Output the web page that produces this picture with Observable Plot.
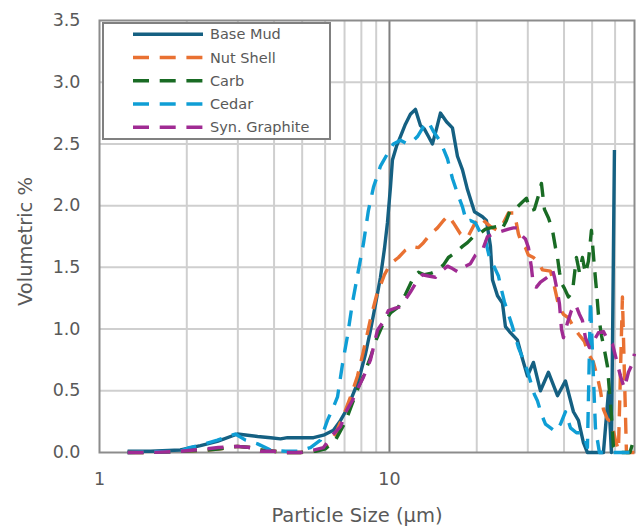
<!DOCTYPE html>
<html>
<head>
<meta charset="utf-8">
<script src="https://cdn.jsdelivr.net/npm/d3@7"></script>
<script src="https://cdn.jsdelivr.net/npm/@observablehq/plot@0.6"></script>
<style>
  html, body { margin: 0; padding: 0; background: #ffffff; }
  #chart { width: 642px; height: 527px; }
</style>
</head>
<body>
<div id="chart"></div>
<script>
// ---------- data (particle size in µm, volumetric %) ----------
const seriesNames = ["Base Mud", "Nut Shell", "Carb", "Cedar", "Syn. Graphite"];
const seriesColors = ["#156082", "#E97132", "#196B24", "#0F9ED5", "#A02B93"];

const baseMudSize = [1.25,1.50,1.90,2.23,2.55,2.99,3.24,3.51,3.89,4.21,4.45,4.93,5.47,5.92,6.41,6.78,7.05,7.34,7.63,7.94,8.27,8.60,8.95,9.31,9.61,9.84,10.08,10.24,10.57,10.91,11.35,11.81,12.29,12.79,13.20,13.63,14.07,14.52,14.99,15.73,16.49,17.16,17.86,18.58,19.64,20.93,21.60,22.30,22.66,23.58,24.53,25.12,25.93,27.63,28.75,29.91,31.37,33.17,35.35,37.98,40.45,43.10,44.85,46.66,48.17,54.70,56.91,58.28,59.69];
const baseMudVol  = [0.01,0.01,0.02,0.055,0.09,0.15,0.14,0.13,0.12,0.11,0.12,0.12,0.12,0.14,0.18,0.26,0.33,0.42,0.52,0.64,0.80,0.99,1.20,1.42,1.65,1.86,2.15,2.37,2.48,2.56,2.66,2.74,2.78,2.65,2.62,2.56,2.50,2.62,2.75,2.68,2.63,2.40,2.29,2.13,1.95,1.91,1.88,1.67,1.40,1.27,1.21,1.02,0.98,0.91,0.76,0.62,0.73,0.50,0.65,0.46,0.58,0.33,0.26,0.08,0.0,0.0,0.49,0.0,2.45];

const nutShellSize = [1.25,1.50,1.90,2.36,2.61,2.99,3.32,3.59,3.98,4.38,4.93,5.56,6.02,6.51,6.94,7.34,7.76,8.13,8.60,9.02,9.61,10.08,10.74,11.35,11.91,12.59,13.10,13.85,14.64,15.36,15.97,16.62,17.58,18.58,19.64,20.43,21.10,22.30,23.58,24.72,25.72,26.98,27.85,28.52,29.44,30.15,31.37,32.64,33.70,35.93,37.09,37.98,38.89,39.81,41.42,43.10,44.85,47.03,48.55,50.52,52.15,53.41,54.70,56.46,58.28,60.17,61.62,63.60,65.66,69.96];
const nutShellVol  = [0.0,0.0,0.01,0.02,0.03,0.05,0.04,0.02,0.01,0.0,0.0,0.01,0.04,0.15,0.30,0.45,0.62,0.82,1.08,1.27,1.44,1.53,1.58,1.64,1.67,1.66,1.70,1.77,1.82,1.88,1.92,1.86,1.77,1.74,1.85,1.91,1.88,1.83,1.80,1.86,1.94,1.94,1.77,1.70,1.66,1.60,1.58,1.54,1.48,1.47,1.34,1.23,1.16,1.12,1.09,1.02,0.96,0.90,0.80,0.73,0.61,0.50,0.35,0.27,0.25,0.10,0.02,1.26,0.0,0.0];

const carbSize = [1.25,1.50,1.90,2.36,2.61,2.99,3.32,3.59,3.98,4.38,4.93,5.56,6.02,6.51,7.05,7.45,7.82,8.13,8.60,9.02,9.46,10.08,10.74,11.35,12.00,12.59,13.20,13.85,14.52,15.36,15.97,16.89,17.86,18.58,19.48,20.60,21.43,22.30,23.39,24.33,25.32,26.14,27.63,28.75,29.68,30.63,31.62,32.64,33.43,34.24,35.35,36.50,37.38,37.98,38.59,39.20,40.13,41.42,42.76,44.14,45.20,46.29,47.41,48.55,49.72,50.92,51.74,52.56,53.83,55.13,56.46,57.36,58.28,59.21,61.13,67.50,69.96];
const carbVol  = [0.0,0.0,0.01,0.02,0.03,0.05,0.04,0.02,0.01,0.0,0.0,0.01,0.03,0.10,0.25,0.40,0.53,0.62,0.77,0.92,1.03,1.13,1.18,1.28,1.40,1.46,1.44,1.45,1.47,1.52,1.58,1.62,1.67,1.70,1.75,1.78,1.81,1.82,1.83,1.80,1.88,1.97,1.99,2.03,2.06,1.96,1.97,2.08,2.18,1.97,1.90,1.80,1.66,1.58,1.46,1.37,1.33,1.26,1.30,1.58,1.46,1.58,1.45,1.55,1.80,1.50,1.32,1.12,0.95,0.83,0.70,0.50,0.30,0.05,0.0,0.0,0.12];

const cedarSize = [1.25,1.50,1.90,2.04,2.23,2.55,2.94,3.19,3.51,3.89,4.38,4.82,5.34,5.78,6.11,6.41,6.62,6.89,7.16,7.45,7.82,8.13,8.46,8.81,9.31,9.84,10.32,10.91,11.53,12.00,12.49,13.10,13.63,14.18,14.99,15.85,16.49,17.16,17.86,18.43,19.02,19.80,20.60,21.43,22.13,23.02,23.76,24.33,24.92,25.72,26.56,27.85,28.98,29.91,30.63,31.62,32.38,33.43,34.52,37.38,38.89,40.45,42.09,44.14,45.93,47.03,48.17,49.33,51.33,52.98,69.96];
const cedarVol  = [0.0,0.005,0.01,0.04,0.06,0.10,0.15,0.10,0.07,0.02,0.01,0.01,0.04,0.10,0.26,0.37,0.45,0.72,0.94,1.21,1.48,1.69,1.96,2.15,2.32,2.42,2.50,2.53,2.50,2.52,2.56,2.64,2.68,2.60,2.52,2.38,2.22,2.10,1.99,1.87,1.88,1.86,1.78,1.72,1.58,1.50,1.43,1.32,1.22,1.12,1.02,0.85,0.75,0.66,0.58,0.47,0.42,0.31,0.23,0.17,0.23,0.33,0.20,0.16,0.16,0.12,0.04,1.23,0.20,0.0,0.0];

const synGraphiteSize = [1.25,1.50,1.90,2.36,2.57,2.99,3.32,3.59,3.98,4.38,4.93,5.47,5.92,6.41,6.78,7.11,7.45,7.82,8.13,8.60,9.09,9.46,9.92,10.49,10.91,11.81,12.39,12.99,13.63,14.41,15.11,15.85,16.49,17.30,18.00,19.02,19.80,20.93,21.78,22.84,24.14,25.72,26.77,27.63,28.52,29.44,30.15,30.87,31.37,32.13,33.17,35.07,36.50,37.09,37.98,38.59,39.20,39.81,41.09,42.42,43.79,45.20,46.29,47.41,48.94,50.52,52.56,54.70,56.91,58.75,60.65,62.60,64.62,66.71,68.86,69.96];
const synGraphiteVol  = [0.0,0.0,0.01,0.03,0.04,0.05,0.04,0.01,0.01,0.0,0.0,0.02,0.04,0.15,0.21,0.34,0.42,0.53,0.61,0.75,0.99,1.05,1.15,1.17,1.18,1.30,1.38,1.44,1.43,1.42,1.47,1.51,1.49,1.46,1.50,1.53,1.60,1.64,1.75,1.77,1.79,1.81,1.82,1.82,1.76,1.73,1.66,1.50,1.35,1.34,1.38,1.42,1.48,1.42,1.30,1.20,1.00,0.93,1.05,1.15,1.20,1.12,1.07,0.93,0.85,0.90,0.97,0.98,0.90,0.88,0.75,0.62,0.52,0.65,0.72,0.80];

const yTicks = [0, 0.5, 1.0, 1.5, 2.0, 2.5, 3.0, 3.5];
const xTickLabels = [1, 10];
const xMinorGrid = [2, 3, 4, 5, 6, 7, 8, 9, 20, 30, 40, 50, 60];
const xMajorGrid = [10];

// ---------- build table ----------
const sizeArrays = [baseMudSize, nutShellSize, carbSize, cedarSize, synGraphiteSize];
const volArrays = [baseMudVol, nutShellVol, carbVol, cedarVol, synGraphiteVol];
const rows = seriesNames.flatMap((name, k) =>
  sizeArrays[k].map((x, i) => ({series: name, x, y: volArrays[k][i]})));

const DASH = "16,10.7";
const FONT = "DejaVu Sans";
const TEXT = "#595959";

const lineMarks = seriesNames.map((name, k) =>
  Plot.line(rows.filter(d => d.series === name), {
    x: "x", y: "y",
    stroke: seriesColors[k],
    strokeWidth: 3.4,
    strokeDasharray: k === 0 ? null : DASH,
    strokeLinejoin: "round",
    strokeLinecap: "butt"
  }));

const chart = Plot.plot({
  width: 642,
  height: 527,
  marginLeft: 99,
  marginRight: 8,
  marginTop: 20,
  marginBottom: 75,
  style: {fontFamily: FONT, color: TEXT, background: "#ffffff", overflow: "visible"},
  x: {type: "log", domain: [1, 70]},
  y: {domain: [0, 3.5]},
  marks: [
    Plot.gridX(xMinorGrid, {stroke: "#cfcfcf", strokeOpacity: 1, strokeWidth: 2}),
    Plot.gridY(yTicks.slice(1, -1), {stroke: "#cfcfcf", strokeOpacity: 1, strokeWidth: 2}),
    Plot.gridX(xMajorGrid, {stroke: "#808080", strokeOpacity: 1, strokeWidth: 2}),
    Plot.frame({stroke: "#8c8c8c", strokeWidth: 2}),
    ...lineMarks,
    Plot.axisY(yTicks, {tickSize: 0, tickPadding: 19, tickFormat: d3.format(".1f"), fontSize: 17.5, label: null, fill: TEXT}),
    Plot.axisX(xTickLabels, {tickSize: 0, tickPadding: 20, tickFormat: d => String(d), fontSize: 17.5, label: null, fill: TEXT}),
    Plot.text(["Particle Size (µm)"], {frameAnchor: "bottom", textAnchor: "middle", lineAnchor: "middle", dx: -10, dy: 63, fontSize: 19.5, fill: TEXT}),
    Plot.text(["Volumetric %"], {frameAnchor: "left", textAnchor: "middle", lineAnchor: "middle", dx: -74, dy: 5, rotate: -90, fontSize: 19.5, fill: TEXT})
  ]
});

document.getElementById("chart").appendChild(chart);

// ---------- legend (inside the plot, top-left) ----------
const svg = d3.select(chart);
const lg = svg.append("g")
  .attr("font-family", FONT).attr("font-size", 14.5)
  .attr("fill", TEXT).attr("text-anchor", "start");
lg.append("rect")
  .attr("x", 103).attr("y", 23).attr("width", 227).attr("height", 116)
  .attr("fill", "#ffffff").attr("stroke", "#808080").attr("stroke-width", 2);
seriesNames.forEach((name, k) => {
  const yy = 34.3 + k * 23.25;
  lg.append("line")
    .attr("x1", 133).attr("x2", 203).attr("y1", yy).attr("y2", yy)
    .attr("stroke", seriesColors[k]).attr("stroke-width", 3.6)
    .attr("stroke-dasharray", k === 0 ? null : DASH);
  lg.append("text")
    .attr("x", 210).attr("y", yy).attr("dy", "0.35em")
    .attr("text-anchor", "start")
    .text(name);
});
</script>
</body>
</html>
